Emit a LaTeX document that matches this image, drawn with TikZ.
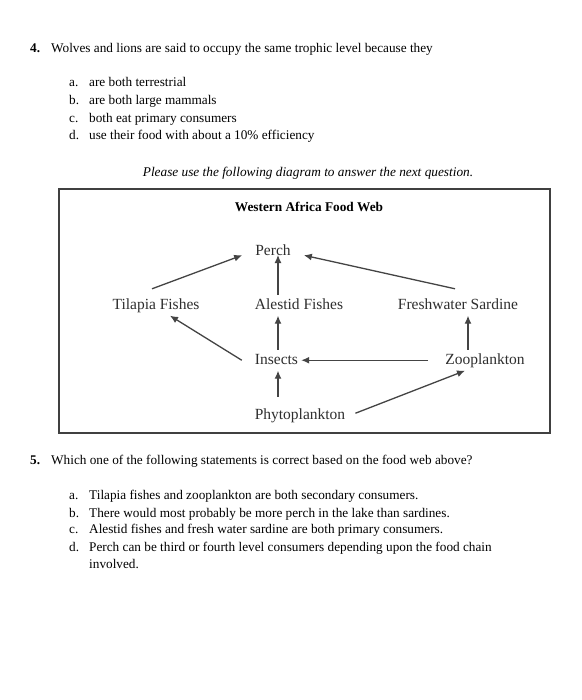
\documentclass[tikz,border=0pt]{standalone}
\usepackage{fontspec}
\setmainfont{Liberation Serif}
\usetikzlibrary{positioning,arrows.meta}
\definecolor{webtext}{HTML}{2E2E2E}
\definecolor{webline}{HTML}{444444}

\begin{document}
\begin{tikzpicture}[x=1pt,y=-1pt,
                    >={Latex[length=8pt,width=7pt]},
                    body/.style={anchor=base west,inner sep=0pt,font={\fontsize{13.25}{17.7}\selectfont}},
                    qnum/.style={body,font={\fontsize{13.25}{17.7}\selectfont\bfseries}},
                    species/.style={inner sep=3pt,text height=11pt,text depth=3.5pt,text=webtext,font={\fontsize{15.5}{18}\selectfont}},
                    feeds/.style={->,draw=webline,line width=1.3pt}]
    \fill[white] (0,0) rectangle (581,700);
    \useasboundingbox (0,0) rectangle (581,700);
    % question 4
    \node[qnum] (q4) at (30,53) {4.};
    \node[body] (q4text) at (51,53) {Wolves and lions are said to occupy the same trophic level because they};
    \node[body] (q4a) at (69,87) {a.};
    \node[body] (q4b) at (69,105) {b.};
    \node[body] (q4c) at (69,123) {c.};
    \node[body] (q4d) at (69,140) {d.};
    \node[body] (q4atext) at (89,87) {are both terrestrial};
    \node[body] (q4btext) at (89,105) {are both large mammals};
    \node[body] (q4ctext) at (89,123) {both eat primary consumers};
    \node[body] (q4dtext) at (89,140) {use their food with about a 10\% efficiency};
    \node[body,anchor=base,font={\fontsize{13.3}{17.7}\selectfont\itshape}] (note) at (308,177) {Please use the following diagram to answer the next question.};
    % food web
    \draw[line width=1.3pt,draw=black!75] (59,189) rectangle (550,433);
    \node[anchor=base,inner sep=0pt,font={\fontsize{13.3}{16}\selectfont\bfseries}] (title) at (309,212) {Western Africa Food Web};
    \node[species] (perch) at (273,251.25) {Perch};
    \node[species] (tilapia) at (156,305.25) {Tilapia Fishes};
    \node[species] (alestid) at (299,305.25) {Alestid Fishes};
    \node[species] (sardine) at (458,305.25) {Freshwater Sardine};
    \node[species] (insects) at (276.5,360.25) {Insects};
    \node[species] (zoo) at (485,360.25) {Zooplankton};
    \node[species] (phyto) at (300,415.25) {Phytoplankton};
    \coordinate (midline) at (278,0);
    \coordinate (rightline) at (468,0);
    \draw[feeds] ([xshift=-4pt,yshift=6pt]tilapia.north) -- ([xshift=-10pt,yshift=-4pt]perch.west);
    \draw[feeds] (alestid.north -| midline) -- (perch.base -| midline);
    \draw[feeds] ([xshift=-3pt,yshift=6pt]sardine.north) -- ([xshift=10pt,yshift=-4pt]perch.east);
    \draw[feeds] ([xshift=-10pt]insects.west) -- ([xshift=14pt]tilapia.south);
    \draw[feeds] (insects.north -| midline) -- (alestid.south -| midline);
    \draw[feeds,shorten <=14pt] (zoo.west) -- (insects.east);
    \draw[feeds] (zoo.north -| rightline) -- (sardine.south -| rightline);
    \draw[feeds,shorten <=8pt] (phyto.north -| midline) -- (insects.south -| midline);
    \draw[feeds] ([xshift=7pt,yshift=2pt]phyto.east) -- ([xshift=-20pt]zoo.south);
    % question 5
    \node[qnum] (q5) at (30,464) {5.};
    \node[body] (q5text) at (51,464) {Which one of the following statements is correct based on the food web above?};
    \node[body] (q5a) at (69,499) {a.};
    \node[body] (q5b) at (69,517) {b.};
    \node[body] (q5c) at (69,533) {c.};
    \node[body] (q5d) at (69,551) {d.};
    \node[body] (q5atext) at (89,499) {Tilapia fishes and zooplankton are both secondary consumers.};
    \node[body] (q5btext) at (89,517) {There would most probably be more perch in the lake than sardines.};
    \node[body] (q5ctext) at (89,533) {Alestid fishes and fresh water sardine are both primary consumers.};
    \node[body] (q5dtext) at (89,551) {Perch can be third or fourth level consumers depending upon the food chain};
    \node[body] (q5dmore) at (89,568) {involved.};
\end{tikzpicture}
\end{document}
